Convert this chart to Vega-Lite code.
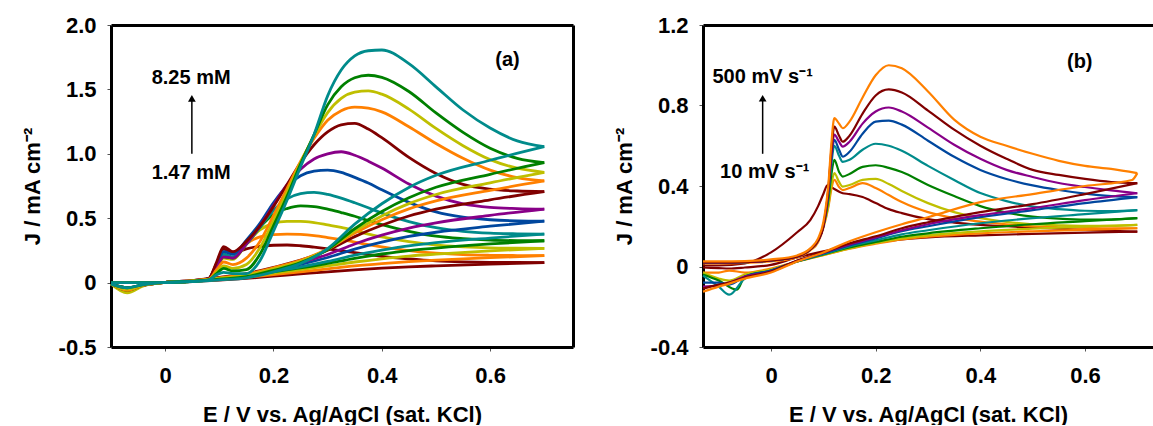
{
"$schema":"https://vega.github.io/schema/vega-lite/v6.json",
"background":"white",
"padding":{"left":21,"top":14,"right":0,"bottom":0},
"spacing":40,
"resolve":{"scale":{"color":"independent"}},
"config":{"view":{"stroke":null},"axis":{"grid":false,"labelFont":"Liberation Sans","labelFontSize":22,"labelFontWeight":"bold","labelColor":"black","titleFont":"Liberation Sans","titleFontSize":22,"titleFontWeight":"bold","titleColor":"black","domainColor":"black","domainWidth":3,"tickColor":"#555","tickSize":4,"tickWidth":1,"labelPadding":11,"titlePadding":14},"axisX":{"labelPadding":14,"titlePadding":18}},
"hconcat":[
{"width":462,"height":322,
"resolve":{"axis":{"x":"independent","y":"independent"}},
"layer":[
{"data":{"values":[
{"s":"a1f","x":-0.1,"y":0},{"s":"a1f","x":-0.05,"y":0},{"s":"a1f","x":0,"y":0},{"s":"a1f","x":0.05,"y":0.012},{"s":"a1f","x":0.08,"y":0.03},{"s":"a1f","x":0.095,"y":0.15},{"s":"a1f","x":0.108,"y":0.26},{"s":"a1f","x":0.125,"y":0.23},{"s":"a1f","x":0.15,"y":0.262},{"s":"a1f","x":0.175,"y":0.282},{"s":"a1f","x":0.2,"y":0.29},{"s":"a1f","x":0.225,"y":0.292},{"s":"a1f","x":0.25,"y":0.286},{"s":"a1f","x":0.275,"y":0.275},{"s":"a1f","x":0.3,"y":0.262},{"s":"a1f","x":0.325,"y":0.248},{"s":"a1f","x":0.35,"y":0.232},{"s":"a1f","x":0.375,"y":0.218},{"s":"a1f","x":0.4,"y":0.204},{"s":"a1f","x":0.45,"y":0.184},{"s":"a1f","x":0.5,"y":0.169},{"s":"a1f","x":0.55,"y":0.161},{"s":"a1f","x":0.6,"y":0.157},{"s":"a1f","x":0.65,"y":0.156},{"s":"a1f","x":0.7,"y":0.155},
{"s":"a1r","x":0.7,"y":0.155},{"s":"a1r","x":0.6,"y":0.144},{"s":"a1r","x":0.5,"y":0.13},{"s":"a1r","x":0.45,"y":0.122},{"s":"a1r","x":0.4,"y":0.112},{"s":"a1r","x":0.35,"y":0.099},{"s":"a1r","x":0.3,"y":0.084},{"s":"a1r","x":0.25,"y":0.067},{"s":"a1r","x":0.2,"y":0.05},{"s":"a1r","x":0.15,"y":0.033},{"s":"a1r","x":0.1,"y":0.019},{"s":"a1r","x":0.05,"y":0.008},{"s":"a1r","x":0,"y":0.002},{"s":"a1r","x":-0.04,"y":-0.02},{"s":"a1r","x":-0.07,"y":-0.06},{"s":"a1r","x":-0.1,"y":-0.01},
{"s":"a2f","x":-0.1,"y":0},{"s":"a2f","x":-0.05,"y":0},{"s":"a2f","x":0,"y":0},{"s":"a2f","x":0.05,"y":0.012},{"s":"a2f","x":0.08,"y":0.03},{"s":"a2f","x":0.095,"y":0.12},{"s":"a2f","x":0.108,"y":0.2},{"s":"a2f","x":0.125,"y":0.19},{"s":"a2f","x":0.15,"y":0.3},{"s":"a2f","x":0.175,"y":0.355},{"s":"a2f","x":0.2,"y":0.372},{"s":"a2f","x":0.225,"y":0.377},{"s":"a2f","x":0.25,"y":0.374},{"s":"a2f","x":0.275,"y":0.365},{"s":"a2f","x":0.3,"y":0.35},{"s":"a2f","x":0.325,"y":0.333},{"s":"a2f","x":0.35,"y":0.315},{"s":"a2f","x":0.375,"y":0.294},{"s":"a2f","x":0.4,"y":0.278},{"s":"a2f","x":0.45,"y":0.249},{"s":"a2f","x":0.5,"y":0.229},{"s":"a2f","x":0.55,"y":0.217},{"s":"a2f","x":0.6,"y":0.212},{"s":"a2f","x":0.65,"y":0.21},{"s":"a2f","x":0.7,"y":0.209},
{"s":"a2r","x":0.7,"y":0.209},{"s":"a2r","x":0.6,"y":0.194},{"s":"a2r","x":0.5,"y":0.175},{"s":"a2r","x":0.45,"y":0.163},{"s":"a2r","x":0.4,"y":0.148},{"s":"a2r","x":0.35,"y":0.13},{"s":"a2r","x":0.3,"y":0.107},{"s":"a2r","x":0.25,"y":0.084},{"s":"a2r","x":0.2,"y":0.062},{"s":"a2r","x":0.15,"y":0.041},{"s":"a2r","x":0.1,"y":0.023},{"s":"a2r","x":0.05,"y":0.01},{"s":"a2r","x":0,"y":0.002},{"s":"a2r","x":-0.04,"y":-0.02},{"s":"a2r","x":-0.07,"y":-0.07},{"s":"a2r","x":-0.1,"y":-0.01},
{"s":"a3f","x":-0.1,"y":0},{"s":"a3f","x":-0.05,"y":0},{"s":"a3f","x":0,"y":0},{"s":"a3f","x":0.05,"y":0.012},{"s":"a3f","x":0.08,"y":0.03},{"s":"a3f","x":0.095,"y":0.11},{"s":"a3f","x":0.108,"y":0.19},{"s":"a3f","x":0.125,"y":0.18},{"s":"a3f","x":0.15,"y":0.3},{"s":"a3f","x":0.175,"y":0.41},{"s":"a3f","x":0.2,"y":0.46},{"s":"a3f","x":0.225,"y":0.475},{"s":"a3f","x":0.25,"y":0.476},{"s":"a3f","x":0.275,"y":0.466},{"s":"a3f","x":0.3,"y":0.448},{"s":"a3f","x":0.325,"y":0.429},{"s":"a3f","x":0.35,"y":0.404},{"s":"a3f","x":0.375,"y":0.377},{"s":"a3f","x":0.4,"y":0.355},{"s":"a3f","x":0.45,"y":0.318},{"s":"a3f","x":0.5,"y":0.291},{"s":"a3f","x":0.55,"y":0.278},{"s":"a3f","x":0.6,"y":0.27},{"s":"a3f","x":0.65,"y":0.267},{"s":"a3f","x":0.7,"y":0.266},
{"s":"a3r","x":0.7,"y":0.266},{"s":"a3r","x":0.6,"y":0.246},{"s":"a3r","x":0.5,"y":0.221},{"s":"a3r","x":0.45,"y":0.206},{"s":"a3r","x":0.4,"y":0.185},{"s":"a3r","x":0.35,"y":0.16},{"s":"a3r","x":0.3,"y":0.13},{"s":"a3r","x":0.25,"y":0.1},{"s":"a3r","x":0.2,"y":0.073},{"s":"a3r","x":0.15,"y":0.047},{"s":"a3r","x":0.1,"y":0.027},{"s":"a3r","x":0.05,"y":0.011},{"s":"a3r","x":0,"y":0.002},{"s":"a3r","x":-0.04,"y":-0.025},{"s":"a3r","x":-0.07,"y":-0.08},{"s":"a3r","x":-0.1,"y":-0.01},
{"s":"a4f","x":-0.1,"y":0},{"s":"a4f","x":-0.05,"y":0},{"s":"a4f","x":0,"y":0},{"s":"a4f","x":0.05,"y":0.012},{"s":"a4f","x":0.08,"y":0.03},{"s":"a4f","x":0.095,"y":0.12},{"s":"a4f","x":0.108,"y":0.2},{"s":"a4f","x":0.125,"y":0.19},{"s":"a4f","x":0.15,"y":0.3},{"s":"a4f","x":0.175,"y":0.43},{"s":"a4f","x":0.2,"y":0.53},{"s":"a4f","x":0.225,"y":0.575},{"s":"a4f","x":0.25,"y":0.595},{"s":"a4f","x":0.275,"y":0.59},{"s":"a4f","x":0.3,"y":0.571},{"s":"a4f","x":0.325,"y":0.544},{"s":"a4f","x":0.35,"y":0.515},{"s":"a4f","x":0.375,"y":0.481},{"s":"a4f","x":0.4,"y":0.45},{"s":"a4f","x":0.45,"y":0.398},{"s":"a4f","x":0.5,"y":0.36},{"s":"a4f","x":0.55,"y":0.341},{"s":"a4f","x":0.6,"y":0.33},{"s":"a4f","x":0.65,"y":0.326},{"s":"a4f","x":0.7,"y":0.325},
{"s":"a4r","x":0.7,"y":0.325},{"s":"a4r","x":0.6,"y":0.3},{"s":"a4r","x":0.5,"y":0.268},{"s":"a4r","x":0.45,"y":0.249},{"s":"a4r","x":0.4,"y":0.222},{"s":"a4r","x":0.35,"y":0.189},{"s":"a4r","x":0.3,"y":0.15},{"s":"a4r","x":0.25,"y":0.114},{"s":"a4r","x":0.2,"y":0.083},{"s":"a4r","x":0.15,"y":0.053},{"s":"a4r","x":0.1,"y":0.03},{"s":"a4r","x":0.05,"y":0.013},{"s":"a4r","x":0,"y":0.002},{"s":"a4r","x":-0.04,"y":-0.02},{"s":"a4r","x":-0.07,"y":-0.06},{"s":"a4r","x":-0.1,"y":-0.01},
{"s":"a5f","x":-0.1,"y":0},{"s":"a5f","x":-0.05,"y":0},{"s":"a5f","x":0,"y":0},{"s":"a5f","x":0.05,"y":0.012},{"s":"a5f","x":0.08,"y":0.03},{"s":"a5f","x":0.095,"y":0.13},{"s":"a5f","x":0.108,"y":0.22},{"s":"a5f","x":0.125,"y":0.2},{"s":"a5f","x":0.15,"y":0.3},{"s":"a5f","x":0.175,"y":0.43},{"s":"a5f","x":0.2,"y":0.56},{"s":"a5f","x":0.225,"y":0.65},{"s":"a5f","x":0.25,"y":0.69},{"s":"a5f","x":0.275,"y":0.701},{"s":"a5f","x":0.3,"y":0.685},{"s":"a5f","x":0.325,"y":0.656},{"s":"a5f","x":0.35,"y":0.62},{"s":"a5f","x":0.375,"y":0.581},{"s":"a5f","x":0.4,"y":0.539},{"s":"a5f","x":0.45,"y":0.474},{"s":"a5f","x":0.5,"y":0.426},{"s":"a5f","x":0.55,"y":0.398},{"s":"a5f","x":0.6,"y":0.384},{"s":"a5f","x":0.65,"y":0.379},{"s":"a5f","x":0.7,"y":0.377},
{"s":"a5r","x":0.7,"y":0.377},{"s":"a5r","x":0.6,"y":0.346},{"s":"a5r","x":0.5,"y":0.31},{"s":"a5r","x":0.45,"y":0.285},{"s":"a5r","x":0.4,"y":0.252},{"s":"a5r","x":0.35,"y":0.213},{"s":"a5r","x":0.3,"y":0.164},{"s":"a5r","x":0.25,"y":0.122},{"s":"a5r","x":0.2,"y":0.088},{"s":"a5r","x":0.15,"y":0.055},{"s":"a5r","x":0.1,"y":0.032},{"s":"a5r","x":0.05,"y":0.013},{"s":"a5r","x":0,"y":0.002},{"s":"a5r","x":-0.04,"y":-0.02},{"s":"a5r","x":-0.07,"y":-0.05},{"s":"a5r","x":-0.1,"y":-0.01},
{"s":"a6f","x":-0.1,"y":0},{"s":"a6f","x":-0.05,"y":0},{"s":"a6f","x":0,"y":0},{"s":"a6f","x":0.05,"y":0.012},{"s":"a6f","x":0.08,"y":0.03},{"s":"a6f","x":0.095,"y":0.14},{"s":"a6f","x":0.108,"y":0.24},{"s":"a6f","x":0.125,"y":0.22},{"s":"a6f","x":0.15,"y":0.33},{"s":"a6f","x":0.175,"y":0.46},{"s":"a6f","x":0.2,"y":0.62},{"s":"a6f","x":0.225,"y":0.75},{"s":"a6f","x":0.25,"y":0.83},{"s":"a6f","x":0.275,"y":0.865},{"s":"a6f","x":0.3,"y":0.874},{"s":"a6f","x":0.325,"y":0.856},{"s":"a6f","x":0.35,"y":0.817},{"s":"a6f","x":0.375,"y":0.773},{"s":"a6f","x":0.4,"y":0.72},{"s":"a6f","x":0.45,"y":0.623},{"s":"a6f","x":0.5,"y":0.549},{"s":"a6f","x":0.55,"y":0.508},{"s":"a6f","x":0.6,"y":0.488},{"s":"a6f","x":0.65,"y":0.48},{"s":"a6f","x":0.7,"y":0.478},
{"s":"a6r","x":0.7,"y":0.478},{"s":"a6r","x":0.6,"y":0.438},{"s":"a6r","x":0.5,"y":0.391},{"s":"a6r","x":0.45,"y":0.358},{"s":"a6r","x":0.4,"y":0.314},{"s":"a6r","x":0.35,"y":0.26},{"s":"a6r","x":0.3,"y":0.195},{"s":"a6r","x":0.25,"y":0.142},{"s":"a6r","x":0.2,"y":0.101},{"s":"a6r","x":0.15,"y":0.062},{"s":"a6r","x":0.1,"y":0.036},{"s":"a6r","x":0.05,"y":0.015},{"s":"a6r","x":0,"y":0.002},{"s":"a6r","x":-0.04,"y":-0.015},{"s":"a6r","x":-0.07,"y":-0.04},{"s":"a6r","x":-0.1,"y":-0.01},
{"s":"a7f","x":-0.1,"y":0},{"s":"a7f","x":-0.05,"y":0},{"s":"a7f","x":0,"y":0},{"s":"a7f","x":0.05,"y":0.012},{"s":"a7f","x":0.08,"y":0.03},{"s":"a7f","x":0.095,"y":0.12},{"s":"a7f","x":0.108,"y":0.2},{"s":"a7f","x":0.125,"y":0.19},{"s":"a7f","x":0.15,"y":0.3},{"s":"a7f","x":0.175,"y":0.44},{"s":"a7f","x":0.2,"y":0.6},{"s":"a7f","x":0.225,"y":0.76},{"s":"a7f","x":0.25,"y":0.88},{"s":"a7f","x":0.275,"y":0.96},{"s":"a7f","x":0.3,"y":1.0},{"s":"a7f","x":0.325,"y":1.016},{"s":"a7f","x":0.35,"y":0.989},{"s":"a7f","x":0.375,"y":0.943},{"s":"a7f","x":0.4,"y":0.889},{"s":"a7f","x":0.45,"y":0.765},{"s":"a7f","x":0.5,"y":0.671},{"s":"a7f","x":0.55,"y":0.611},{"s":"a7f","x":0.6,"y":0.584},{"s":"a7f","x":0.65,"y":0.575},{"s":"a7f","x":0.7,"y":0.571},
{"s":"a7r","x":0.7,"y":0.571},{"s":"a7r","x":0.6,"y":0.522},{"s":"a7r","x":0.5,"y":0.464},{"s":"a7r","x":0.45,"y":0.423},{"s":"a7r","x":0.4,"y":0.368},{"s":"a7r","x":0.35,"y":0.3},{"s":"a7r","x":0.3,"y":0.218},{"s":"a7r","x":0.25,"y":0.155},{"s":"a7r","x":0.2,"y":0.108},{"s":"a7r","x":0.15,"y":0.066},{"s":"a7r","x":0.1,"y":0.038},{"s":"a7r","x":0.05,"y":0.015},{"s":"a7r","x":0,"y":0.002},{"s":"a7r","x":-0.04,"y":-0.02},{"s":"a7r","x":-0.07,"y":-0.05},{"s":"a7r","x":-0.1,"y":-0.01},
{"s":"a8f","x":-0.1,"y":0},{"s":"a8f","x":-0.05,"y":0},{"s":"a8f","x":0,"y":0},{"s":"a8f","x":0.05,"y":0.012},{"s":"a8f","x":0.08,"y":0.03},{"s":"a8f","x":0.095,"y":0.16},{"s":"a8f","x":0.108,"y":0.28},{"s":"a8f","x":0.125,"y":0.24},{"s":"a8f","x":0.15,"y":0.32},{"s":"a8f","x":0.175,"y":0.44},{"s":"a8f","x":0.2,"y":0.59},{"s":"a8f","x":0.225,"y":0.76},{"s":"a8f","x":0.25,"y":0.93},{"s":"a8f","x":0.275,"y":1.07},{"s":"a8f","x":0.3,"y":1.17},{"s":"a8f","x":0.325,"y":1.225},{"s":"a8f","x":0.35,"y":1.236},{"s":"a8f","x":0.375,"y":1.192},{"s":"a8f","x":0.4,"y":1.125},{"s":"a8f","x":0.45,"y":0.972},{"s":"a8f","x":0.5,"y":0.847},{"s":"a8f","x":0.55,"y":0.762},{"s":"a8f","x":0.6,"y":0.725},{"s":"a8f","x":0.65,"y":0.711},{"s":"a8f","x":0.7,"y":0.706},
{"s":"a8r","x":0.7,"y":0.706},{"s":"a8r","x":0.6,"y":0.643},{"s":"a8r","x":0.5,"y":0.57},{"s":"a8r","x":0.45,"y":0.517},{"s":"a8r","x":0.4,"y":0.445},{"s":"a8r","x":0.35,"y":0.357},{"s":"a8r","x":0.3,"y":0.251},{"s":"a8r","x":0.25,"y":0.174},{"s":"a8r","x":0.2,"y":0.118},{"s":"a8r","x":0.15,"y":0.07},{"s":"a8r","x":0.1,"y":0.04},{"s":"a8r","x":0.05,"y":0.016},{"s":"a8r","x":0,"y":0.002},{"s":"a8r","x":-0.04,"y":-0.02},{"s":"a8r","x":-0.07,"y":-0.04},{"s":"a8r","x":-0.1,"y":-0.01},
{"s":"a9f","x":-0.1,"y":0},{"s":"a9f","x":-0.05,"y":0},{"s":"a9f","x":0,"y":0},{"s":"a9f","x":0.05,"y":0.01},{"s":"a9f","x":0.08,"y":0.025},{"s":"a9f","x":0.095,"y":0.1},{"s":"a9f","x":0.108,"y":0.16},{"s":"a9f","x":0.125,"y":0.14},{"s":"a9f","x":0.15,"y":0.19},{"s":"a9f","x":0.175,"y":0.32},{"s":"a9f","x":0.2,"y":0.52},{"s":"a9f","x":0.225,"y":0.73},{"s":"a9f","x":0.25,"y":0.94},{"s":"a9f","x":0.275,"y":1.12},{"s":"a9f","x":0.3,"y":1.26},{"s":"a9f","x":0.325,"y":1.335},{"s":"a9f","x":0.35,"y":1.362},{"s":"a9f","x":0.375,"y":1.354},{"s":"a9f","x":0.4,"y":1.326},{"s":"a9f","x":0.45,"y":1.21},{"s":"a9f","x":0.5,"y":1.08},{"s":"a9f","x":0.55,"y":0.965},{"s":"a9f","x":0.6,"y":0.873},{"s":"a9f","x":0.65,"y":0.815},{"s":"a9f","x":0.7,"y":0.789},
{"s":"a9r","x":0.7,"y":0.789},{"s":"a9r","x":0.6,"y":0.716},{"s":"a9r","x":0.5,"y":0.634},{"s":"a9r","x":0.45,"y":0.572},{"s":"a9r","x":0.4,"y":0.488},{"s":"a9r","x":0.35,"y":0.384},{"s":"a9r","x":0.3,"y":0.26},{"s":"a9r","x":0.25,"y":0.173},{"s":"a9r","x":0.2,"y":0.115},{"s":"a9r","x":0.15,"y":0.065},{"s":"a9r","x":0.1,"y":0.037},{"s":"a9r","x":0.05,"y":0.015},{"s":"a9r","x":0,"y":0.002},{"s":"a9r","x":-0.04,"y":-0.02},{"s":"a9r","x":-0.07,"y":-0.06},{"s":"a9r","x":-0.1,"y":-0.01},
{"s":"a10f","x":-0.1,"y":0},{"s":"a10f","x":-0.05,"y":0},{"s":"a10f","x":0,"y":0},{"s":"a10f","x":0.05,"y":0.01},{"s":"a10f","x":0.08,"y":0.02},{"s":"a10f","x":0.095,"y":0.08},{"s":"a10f","x":0.108,"y":0.13},{"s":"a10f","x":0.125,"y":0.11},{"s":"a10f","x":0.15,"y":0.14},{"s":"a10f","x":0.175,"y":0.27},{"s":"a10f","x":0.2,"y":0.48},{"s":"a10f","x":0.225,"y":0.7},{"s":"a10f","x":0.25,"y":0.93},{"s":"a10f","x":0.275,"y":1.14},{"s":"a10f","x":0.3,"y":1.32},{"s":"a10f","x":0.325,"y":1.43},{"s":"a10f","x":0.35,"y":1.478},{"s":"a10f","x":0.375,"y":1.488},{"s":"a10f","x":0.4,"y":1.463},{"s":"a10f","x":0.45,"y":1.347},{"s":"a10f","x":0.5,"y":1.197},{"s":"a10f","x":0.55,"y":1.063},{"s":"a10f","x":0.6,"y":0.955},{"s":"a10f","x":0.65,"y":0.888},{"s":"a10f","x":0.7,"y":0.856},
{"s":"a10r","x":0.7,"y":0.856},{"s":"a10r","x":0.6,"y":0.775},{"s":"a10r","x":0.5,"y":0.684},{"s":"a10r","x":0.45,"y":0.613},{"s":"a10r","x":0.4,"y":0.518},{"s":"a10r","x":0.35,"y":0.401},{"s":"a10r","x":0.3,"y":0.259},{"s":"a10r","x":0.25,"y":0.165},{"s":"a10r","x":0.2,"y":0.106},{"s":"a10r","x":0.15,"y":0.057},{"s":"a10r","x":0.1,"y":0.033},{"s":"a10r","x":0.05,"y":0.014},{"s":"a10r","x":0,"y":0.002},{"s":"a10r","x":-0.04,"y":-0.02},{"s":"a10r","x":-0.07,"y":-0.05},{"s":"a10r","x":-0.1,"y":-0.01},
{"s":"a11f","x":-0.1,"y":0},{"s":"a11f","x":-0.05,"y":0},{"s":"a11f","x":0,"y":0},{"s":"a11f","x":0.05,"y":0.01},{"s":"a11f","x":0.08,"y":0.02},{"s":"a11f","x":0.095,"y":0.07},{"s":"a11f","x":0.108,"y":0.11},{"s":"a11f","x":0.125,"y":0.09},{"s":"a11f","x":0.15,"y":0.1},{"s":"a11f","x":0.175,"y":0.22},{"s":"a11f","x":0.2,"y":0.44},{"s":"a11f","x":0.225,"y":0.67},{"s":"a11f","x":0.25,"y":0.92},{"s":"a11f","x":0.275,"y":1.15},{"s":"a11f","x":0.3,"y":1.38},{"s":"a11f","x":0.325,"y":1.52},{"s":"a11f","x":0.35,"y":1.59},{"s":"a11f","x":0.375,"y":1.61},{"s":"a11f","x":0.4,"y":1.594},{"s":"a11f","x":0.45,"y":1.484},{"s":"a11f","x":0.5,"y":1.317},{"s":"a11f","x":0.55,"y":1.166},{"s":"a11f","x":0.6,"y":1.043},{"s":"a11f","x":0.65,"y":0.965},{"s":"a11f","x":0.7,"y":0.931},
{"s":"a11r","x":0.7,"y":0.931},{"s":"a11r","x":0.6,"y":0.841},{"s":"a11r","x":0.5,"y":0.74},{"s":"a11r","x":0.45,"y":0.659},{"s":"a11r","x":0.4,"y":0.552},{"s":"a11r","x":0.35,"y":0.418},{"s":"a11r","x":0.3,"y":0.257},{"s":"a11r","x":0.25,"y":0.155},{"s":"a11r","x":0.2,"y":0.095},{"s":"a11r","x":0.15,"y":0.047},{"s":"a11r","x":0.1,"y":0.027},{"s":"a11r","x":0.05,"y":0.011},{"s":"a11r","x":0,"y":0.002},{"s":"a11r","x":-0.04,"y":-0.015},{"s":"a11r","x":-0.07,"y":-0.04},{"s":"a11r","x":-0.1,"y":-0.01},
{"s":"a12f","x":-0.1,"y":0},{"s":"a12f","x":-0.05,"y":0},{"s":"a12f","x":0,"y":0},{"s":"a12f","x":0.05,"y":0.01},{"s":"a12f","x":0.08,"y":0.02},{"s":"a12f","x":0.095,"y":0.06},{"s":"a12f","x":0.108,"y":0.08},{"s":"a12f","x":0.125,"y":0.07},{"s":"a12f","x":0.15,"y":0.07},{"s":"a12f","x":0.175,"y":0.17},{"s":"a12f","x":0.2,"y":0.4},{"s":"a12f","x":0.225,"y":0.64},{"s":"a12f","x":0.25,"y":0.9},{"s":"a12f","x":0.275,"y":1.15},{"s":"a12f","x":0.3,"y":1.45},{"s":"a12f","x":0.325,"y":1.65},{"s":"a12f","x":0.35,"y":1.76},{"s":"a12f","x":0.375,"y":1.8},{"s":"a12f","x":0.4,"y":1.806},{"s":"a12f","x":0.45,"y":1.7},{"s":"a12f","x":0.5,"y":1.52},{"s":"a12f","x":0.55,"y":1.34},{"s":"a12f","x":0.6,"y":1.2},{"s":"a12f","x":0.65,"y":1.1},{"s":"a12f","x":0.7,"y":1.055},
{"s":"a12r","x":0.7,"y":1.055},{"s":"a12r","x":0.6,"y":0.95},{"s":"a12r","x":0.5,"y":0.833},{"s":"a12r","x":0.45,"y":0.739},{"s":"a12r","x":0.4,"y":0.612},{"s":"a12r","x":0.35,"y":0.454},{"s":"a12r","x":0.3,"y":0.264},{"s":"a12r","x":0.25,"y":0.148},{"s":"a12r","x":0.2,"y":0.084},{"s":"a12r","x":0.15,"y":0.037},{"s":"a12r","x":0.1,"y":0.021},{"s":"a12r","x":0.05,"y":0.008},{"s":"a12r","x":0,"y":0.002},{"s":"a12r","x":-0.04,"y":-0.015},{"s":"a12r","x":-0.07,"y":-0.04},{"s":"a12r","x":-0.1,"y":-0.01}
]},
"mark":{"type":"line","strokeWidth":2.8,"strokeJoin":"round","interpolate":"monotone"},
"encoding":{
"x":{"field":"x","type":"quantitative","scale":{"domain":[-0.1,0.753],"nice":false,"zero":false},"axis":{"values":[0,0.2,0.4,0.6],"labelExpr":"datum.value == 0 ? '0' : (datum.value < 0 ? '-' : '') + format(abs(datum.value), '.1f')","title":"E / V vs. Ag/AgCl (sat. KCl)"}},
"y":{"field":"y","type":"quantitative","scale":{"domain":[-0.5,2.0],"nice":false,"zero":false},"axis":{"values":[-0.5,0,0.5,1,1.5,2],"labelExpr":"datum.value == 0 ? '0' : (datum.value < 0 ? '-' : '') + format(abs(datum.value), '.1f')","title":"J / mA cm\u207b\u00b2"}},
"color":{"field":"s","type":"nominal","legend":null,"scale":{"domain":["a1f","a1r","a2f","a2r","a3f","a3r","a4f","a4r","a5f","a5r","a6f","a6r","a7f","a7r","a8f","a8r","a9f","a9r","a10f","a10r","a11f","a11r","a12f","a12r"],"range":["#800000","#800000","#FF8000","#FF8000","#BFBF00","#BFBF00","#008000","#008000","#008B8B","#008B8B","#00479E","#00479E","#880088","#880088","#800000","#800000","#FF8000","#FF8000","#BFBF00","#BFBF00","#008000","#008000","#008B8B","#008B8B"]}}
}},
{"data":{"values":[{"x":0.048,"y":1.588,"t":"8.25 mM"},{"x":0.048,"y":0.849,"t":"1.47 mM"},{"x":0.632,"y":1.728,"t":"(a)"}]},
"mark":{"type":"text","font":"Liberation Sans","fontSize":20,"fontWeight":"bold","color":"black","align":"center","baseline":"middle"},
"encoding":{
"x":{"field":"x","type":"quantitative","scale":{"domain":[-0.1,0.753],"nice":false,"zero":false},"axis":{"orient":"top","labels":false,"ticks":false,"title":null}},
"y":{"field":"y","type":"quantitative","scale":{"domain":[-0.5,2.0],"nice":false,"zero":false},"axis":{"orient":"right","labels":false,"ticks":false,"title":null}},
"text":{"field":"t"}}},
{"data":{"values":[{"x":0.0493,"y":1.0,"y2":1.43}]},
"mark":{"type":"rule","color":"black","strokeWidth":1.5},
"encoding":{"x":{"field":"x","type":"quantitative","axis":null},"y":{"field":"y","type":"quantitative","axis":null},"y2":{"field":"y2"}}},
{"data":{"values":[{"x":0.0493,"y":1.43}]},
"mark":{"type":"point","shape":"triangle-up","size":60,"filled":true,"color":"black","opacity":1},
"encoding":{"x":{"field":"x","type":"quantitative","axis":null},"y":{"field":"y","type":"quantitative","axis":null}}}
]},
{"width":450,"height":322,
"resolve":{"axis":{"x":"independent","y":"independent"}},
"layer":[
{"data":{"values":[
{"s":"b1f","x":-0.13,"y":0.005},{"s":"b1f","x":-0.1,"y":0.005},{"s":"b1f","x":-0.05,"y":0.015},{"s":"b1f","x":0,"y":0.07},{"s":"b1f","x":0.05,"y":0.17},{"s":"b1f","x":0.075,"y":0.23},{"s":"b1f","x":0.09,"y":0.3},{"s":"b1f","x":0.1,"y":0.36},{"s":"b1f","x":0.108,"y":0.405},{"s":"b1f","x":0.121,"y":0.385},{"s":"b1f","x":0.137,"y":0.364},{"s":"b1f","x":0.15,"y":0.36},{"s":"b1f","x":0.175,"y":0.345},{"s":"b1f","x":0.2,"y":0.315},{"s":"b1f","x":0.225,"y":0.285},{"s":"b1f","x":0.25,"y":0.265},{"s":"b1f","x":0.3,"y":0.235},{"s":"b1f","x":0.35,"y":0.218},{"s":"b1f","x":0.4,"y":0.207},{"s":"b1f","x":0.45,"y":0.2},{"s":"b1f","x":0.5,"y":0.193},{"s":"b1f","x":0.55,"y":0.188},{"s":"b1f","x":0.6,"y":0.182},{"s":"b1f","x":0.65,"y":0.177},{"s":"b1f","x":0.7,"y":0.173},
{"s":"b1r","x":0.7,"y":0.173},{"s":"b1r","x":0.6,"y":0.168},{"s":"b1r","x":0.5,"y":0.162},{"s":"b1r","x":0.4,"y":0.155},{"s":"b1r","x":0.3,"y":0.145},{"s":"b1r","x":0.25,"y":0.135},{"s":"b1r","x":0.2,"y":0.12},{"s":"b1r","x":0.15,"y":0.1},{"s":"b1r","x":0.1,"y":0.075},{"s":"b1r","x":0.05,"y":0.045},{"s":"b1r","x":0,"y":0.008},{"s":"b1r","x":-0.05,"y":-0.005},{"s":"b1r","x":-0.08,"y":-0.01},{"s":"b1r","x":-0.1,"y":-0.008},{"s":"b1r","x":-0.13,"y":-0.005},
{"s":"b2f","x":-0.13,"y":0.015},{"s":"b2f","x":-0.1,"y":0.015},{"s":"b2f","x":-0.05,"y":0.018},{"s":"b2f","x":0,"y":0.025},{"s":"b2f","x":0.05,"y":0.045},{"s":"b2f","x":0.075,"y":0.08},{"s":"b2f","x":0.09,"y":0.12},{"s":"b2f","x":0.1,"y":0.19},{"s":"b2f","x":0.11,"y":0.3},{"s":"b2f","x":0.115,"y":0.38},{"s":"b2f","x":0.121,"y":0.43},{"s":"b2f","x":0.13,"y":0.395},{"s":"b2f","x":0.137,"y":0.38},{"s":"b2f","x":0.15,"y":0.39},{"s":"b2f","x":0.175,"y":0.414},{"s":"b2f","x":0.2,"y":0.39},{"s":"b2f","x":0.225,"y":0.355},{"s":"b2f","x":0.25,"y":0.32},{"s":"b2f","x":0.3,"y":0.27},{"s":"b2f","x":0.35,"y":0.24},{"s":"b2f","x":0.4,"y":0.223},{"s":"b2f","x":0.45,"y":0.21},{"s":"b2f","x":0.5,"y":0.2},{"s":"b2f","x":0.55,"y":0.195},{"s":"b2f","x":0.6,"y":0.192},{"s":"b2f","x":0.65,"y":0.19},{"s":"b2f","x":0.7,"y":0.19},
{"s":"b2r","x":0.7,"y":0.19},{"s":"b2r","x":0.6,"y":0.182},{"s":"b2r","x":0.5,"y":0.175},{"s":"b2r","x":0.4,"y":0.165},{"s":"b2r","x":0.3,"y":0.148},{"s":"b2r","x":0.25,"y":0.135},{"s":"b2r","x":0.2,"y":0.113},{"s":"b2r","x":0.15,"y":0.088},{"s":"b2r","x":0.1,"y":0.056},{"s":"b2r","x":0.05,"y":0.025},{"s":"b2r","x":0,"y":-0.01},{"s":"b2r","x":-0.05,"y":-0.03},{"s":"b2r","x":-0.08,"y":-0.02},{"s":"b2r","x":-0.1,"y":-0.03},{"s":"b2r","x":-0.13,"y":-0.03},
{"s":"b3f","x":-0.13,"y":0.02},{"s":"b3f","x":-0.1,"y":0.02},{"s":"b3f","x":-0.05,"y":0.022},{"s":"b3f","x":0,"y":0.03},{"s":"b3f","x":0.05,"y":0.05},{"s":"b3f","x":0.075,"y":0.085},{"s":"b3f","x":0.09,"y":0.13},{"s":"b3f","x":0.1,"y":0.2},{"s":"b3f","x":0.11,"y":0.31},{"s":"b3f","x":0.115,"y":0.4},{"s":"b3f","x":0.121,"y":0.464},{"s":"b3f","x":0.13,"y":0.42},{"s":"b3f","x":0.137,"y":0.397},{"s":"b3f","x":0.15,"y":0.405},{"s":"b3f","x":0.175,"y":0.43},{"s":"b3f","x":0.2,"y":0.435},{"s":"b3f","x":0.225,"y":0.41},{"s":"b3f","x":0.25,"y":0.375},{"s":"b3f","x":0.3,"y":0.315},{"s":"b3f","x":0.35,"y":0.27},{"s":"b3f","x":0.4,"y":0.24},{"s":"b3f","x":0.45,"y":0.222},{"s":"b3f","x":0.5,"y":0.21},{"s":"b3f","x":0.55,"y":0.205},{"s":"b3f","x":0.6,"y":0.202},{"s":"b3f","x":0.65,"y":0.202},{"s":"b3f","x":0.7,"y":0.207},
{"s":"b3r","x":0.7,"y":0.207},{"s":"b3r","x":0.6,"y":0.198},{"s":"b3r","x":0.5,"y":0.188},{"s":"b3r","x":0.4,"y":0.175},{"s":"b3r","x":0.3,"y":0.155},{"s":"b3r","x":0.25,"y":0.14},{"s":"b3r","x":0.2,"y":0.117},{"s":"b3r","x":0.15,"y":0.09},{"s":"b3r","x":0.1,"y":0.058},{"s":"b3r","x":0.05,"y":0.025},{"s":"b3r","x":0,"y":-0.015},{"s":"b3r","x":-0.05,"y":-0.04},{"s":"b3r","x":-0.08,"y":-0.07},{"s":"b3r","x":-0.1,"y":-0.06},{"s":"b3r","x":-0.13,"y":-0.03},
{"s":"b4f","x":-0.13,"y":0.02},{"s":"b4f","x":-0.1,"y":0.02},{"s":"b4f","x":-0.05,"y":0.022},{"s":"b4f","x":0,"y":0.03},{"s":"b4f","x":0.05,"y":0.05},{"s":"b4f","x":0.075,"y":0.085},{"s":"b4f","x":0.09,"y":0.13},{"s":"b4f","x":0.1,"y":0.2},{"s":"b4f","x":0.11,"y":0.34},{"s":"b4f","x":0.115,"y":0.45},{"s":"b4f","x":0.121,"y":0.53},{"s":"b4f","x":0.13,"y":0.47},{"s":"b4f","x":0.137,"y":0.447},{"s":"b4f","x":0.15,"y":0.46},{"s":"b4f","x":0.175,"y":0.495},{"s":"b4f","x":0.2,"y":0.503},{"s":"b4f","x":0.225,"y":0.49},{"s":"b4f","x":0.25,"y":0.47},{"s":"b4f","x":0.3,"y":0.405},{"s":"b4f","x":0.35,"y":0.35},{"s":"b4f","x":0.4,"y":0.3},{"s":"b4f","x":0.45,"y":0.268},{"s":"b4f","x":0.5,"y":0.248},{"s":"b4f","x":0.55,"y":0.238},{"s":"b4f","x":0.6,"y":0.233},{"s":"b4f","x":0.65,"y":0.233},{"s":"b4f","x":0.7,"y":0.24},
{"s":"b4r","x":0.7,"y":0.24},{"s":"b4r","x":0.6,"y":0.225},{"s":"b4r","x":0.5,"y":0.21},{"s":"b4r","x":0.4,"y":0.19},{"s":"b4r","x":0.3,"y":0.165},{"s":"b4r","x":0.25,"y":0.148},{"s":"b4r","x":0.2,"y":0.122},{"s":"b4r","x":0.15,"y":0.095},{"s":"b4r","x":0.1,"y":0.06},{"s":"b4r","x":0.05,"y":0.025},{"s":"b4r","x":0,"y":-0.02},{"s":"b4r","x":-0.05,"y":-0.05},{"s":"b4r","x":-0.065,"y":-0.115},{"s":"b4r","x":-0.1,"y":-0.07},{"s":"b4r","x":-0.13,"y":-0.04},
{"s":"b5f","x":-0.13,"y":0.02},{"s":"b5f","x":-0.1,"y":0.02},{"s":"b5f","x":-0.05,"y":0.022},{"s":"b5f","x":0,"y":0.03},{"s":"b5f","x":0.05,"y":0.05},{"s":"b5f","x":0.075,"y":0.085},{"s":"b5f","x":0.09,"y":0.13},{"s":"b5f","x":0.1,"y":0.2},{"s":"b5f","x":0.11,"y":0.37},{"s":"b5f","x":0.115,"y":0.5},{"s":"b5f","x":0.121,"y":0.6},{"s":"b5f","x":0.13,"y":0.55},{"s":"b5f","x":0.137,"y":0.52},{"s":"b5f","x":0.15,"y":0.53},{"s":"b5f","x":0.175,"y":0.58},{"s":"b5f","x":0.2,"y":0.61},{"s":"b5f","x":0.225,"y":0.6},{"s":"b5f","x":0.25,"y":0.575},{"s":"b5f","x":0.3,"y":0.5},{"s":"b5f","x":0.35,"y":0.43},{"s":"b5f","x":0.4,"y":0.365},{"s":"b5f","x":0.45,"y":0.325},{"s":"b5f","x":0.5,"y":0.298},{"s":"b5f","x":0.55,"y":0.285},{"s":"b5f","x":0.6,"y":0.277},{"s":"b5f","x":0.65,"y":0.275},{"s":"b5f","x":0.7,"y":0.28},
{"s":"b5r","x":0.7,"y":0.28},{"s":"b5r","x":0.6,"y":0.26},{"s":"b5r","x":0.5,"y":0.24},{"s":"b5r","x":0.4,"y":0.215},{"s":"b5r","x":0.3,"y":0.18},{"s":"b5r","x":0.25,"y":0.16},{"s":"b5r","x":0.2,"y":0.13},{"s":"b5r","x":0.15,"y":0.1},{"s":"b5r","x":0.1,"y":0.062},{"s":"b5r","x":0.05,"y":0.025},{"s":"b5r","x":0,"y":-0.02},{"s":"b5r","x":-0.05,"y":-0.06},{"s":"b5r","x":-0.08,"y":-0.14},{"s":"b5r","x":-0.1,"y":-0.1},{"s":"b5r","x":-0.13,"y":-0.045},
{"s":"b6f","x":-0.13,"y":0.02},{"s":"b6f","x":-0.1,"y":0.02},{"s":"b6f","x":-0.05,"y":0.022},{"s":"b6f","x":0,"y":0.03},{"s":"b6f","x":0.05,"y":0.05},{"s":"b6f","x":0.075,"y":0.085},{"s":"b6f","x":0.09,"y":0.13},{"s":"b6f","x":0.1,"y":0.2},{"s":"b6f","x":0.11,"y":0.38},{"s":"b6f","x":0.115,"y":0.53},{"s":"b6f","x":0.121,"y":0.629},{"s":"b6f","x":0.13,"y":0.58},{"s":"b6f","x":0.137,"y":0.546},{"s":"b6f","x":0.15,"y":0.57},{"s":"b6f","x":0.175,"y":0.66},{"s":"b6f","x":0.2,"y":0.72},{"s":"b6f","x":0.225,"y":0.725},{"s":"b6f","x":0.25,"y":0.705},{"s":"b6f","x":0.3,"y":0.625},{"s":"b6f","x":0.35,"y":0.545},{"s":"b6f","x":0.4,"y":0.48},{"s":"b6f","x":0.45,"y":0.435},{"s":"b6f","x":0.5,"y":0.403},{"s":"b6f","x":0.55,"y":0.38},{"s":"b6f","x":0.6,"y":0.362},{"s":"b6f","x":0.65,"y":0.35},{"s":"b6f","x":0.7,"y":0.345},
{"s":"b6r","x":0.7,"y":0.345},{"s":"b6r","x":0.6,"y":0.315},{"s":"b6r","x":0.5,"y":0.28},{"s":"b6r","x":0.4,"y":0.245},{"s":"b6r","x":0.3,"y":0.2},{"s":"b6r","x":0.25,"y":0.175},{"s":"b6r","x":0.2,"y":0.14},{"s":"b6r","x":0.15,"y":0.105},{"s":"b6r","x":0.1,"y":0.065},{"s":"b6r","x":0.05,"y":0.027},{"s":"b6r","x":0,"y":-0.02},{"s":"b6r","x":-0.05,"y":-0.05},{"s":"b6r","x":-0.08,"y":-0.09},{"s":"b6r","x":-0.1,"y":-0.08},{"s":"b6r","x":-0.13,"y":-0.08},
{"s":"b7f","x":-0.13,"y":0.02},{"s":"b7f","x":-0.1,"y":0.02},{"s":"b7f","x":-0.05,"y":0.022},{"s":"b7f","x":0,"y":0.03},{"s":"b7f","x":0.05,"y":0.05},{"s":"b7f","x":0.075,"y":0.085},{"s":"b7f","x":0.09,"y":0.13},{"s":"b7f","x":0.1,"y":0.2},{"s":"b7f","x":0.11,"y":0.39},{"s":"b7f","x":0.115,"y":0.55},{"s":"b7f","x":0.121,"y":0.655},{"s":"b7f","x":0.13,"y":0.62},{"s":"b7f","x":0.137,"y":0.596},{"s":"b7f","x":0.15,"y":0.62},{"s":"b7f","x":0.175,"y":0.71},{"s":"b7f","x":0.2,"y":0.77},{"s":"b7f","x":0.225,"y":0.79},{"s":"b7f","x":0.25,"y":0.77},{"s":"b7f","x":0.3,"y":0.69},{"s":"b7f","x":0.35,"y":0.605},{"s":"b7f","x":0.4,"y":0.535},{"s":"b7f","x":0.45,"y":0.48},{"s":"b7f","x":0.5,"y":0.445},{"s":"b7f","x":0.55,"y":0.415},{"s":"b7f","x":0.6,"y":0.395},{"s":"b7f","x":0.65,"y":0.378},{"s":"b7f","x":0.7,"y":0.364},
{"s":"b7r","x":0.7,"y":0.364},{"s":"b7r","x":0.6,"y":0.33},{"s":"b7r","x":0.5,"y":0.29},{"s":"b7r","x":0.4,"y":0.255},{"s":"b7r","x":0.3,"y":0.21},{"s":"b7r","x":0.25,"y":0.18},{"s":"b7r","x":0.2,"y":0.145},{"s":"b7r","x":0.15,"y":0.11},{"s":"b7r","x":0.1,"y":0.068},{"s":"b7r","x":0.05,"y":0.028},{"s":"b7r","x":0,"y":-0.025},{"s":"b7r","x":-0.05,"y":-0.05},{"s":"b7r","x":-0.08,"y":-0.08},{"s":"b7r","x":-0.1,"y":-0.095},{"s":"b7r","x":-0.13,"y":-0.1},
{"s":"b8f","x":-0.13,"y":0.02},{"s":"b8f","x":-0.1,"y":0.02},{"s":"b8f","x":-0.05,"y":0.022},{"s":"b8f","x":0,"y":0.03},{"s":"b8f","x":0.05,"y":0.05},{"s":"b8f","x":0.075,"y":0.085},{"s":"b8f","x":0.09,"y":0.13},{"s":"b8f","x":0.1,"y":0.2},{"s":"b8f","x":0.11,"y":0.4},{"s":"b8f","x":0.115,"y":0.57},{"s":"b8f","x":0.121,"y":0.695},{"s":"b8f","x":0.13,"y":0.65},{"s":"b8f","x":0.137,"y":0.62},{"s":"b8f","x":0.15,"y":0.65},{"s":"b8f","x":0.175,"y":0.76},{"s":"b8f","x":0.2,"y":0.85},{"s":"b8f","x":0.225,"y":0.88},{"s":"b8f","x":0.25,"y":0.865},{"s":"b8f","x":0.3,"y":0.775},{"s":"b8f","x":0.35,"y":0.68},{"s":"b8f","x":0.4,"y":0.6},{"s":"b8f","x":0.45,"y":0.535},{"s":"b8f","x":0.5,"y":0.48},{"s":"b8f","x":0.55,"y":0.455},{"s":"b8f","x":0.6,"y":0.435},{"s":"b8f","x":0.65,"y":0.42},{"s":"b8f","x":0.7,"y":0.414},
{"s":"b8r","x":0.7,"y":0.414},{"s":"b8r","x":0.6,"y":0.36},{"s":"b8r","x":0.5,"y":0.31},{"s":"b8r","x":0.4,"y":0.27},{"s":"b8r","x":0.3,"y":0.22},{"s":"b8r","x":0.25,"y":0.19},{"s":"b8r","x":0.2,"y":0.15},{"s":"b8r","x":0.15,"y":0.115},{"s":"b8r","x":0.1,"y":0.07},{"s":"b8r","x":0.05,"y":0.03},{"s":"b8r","x":0,"y":-0.025},{"s":"b8r","x":-0.05,"y":-0.055},{"s":"b8r","x":-0.08,"y":-0.08},{"s":"b8r","x":-0.1,"y":-0.09},{"s":"b8r","x":-0.13,"y":-0.11},
{"s":"b9f","x":-0.13,"y":0.025},{"s":"b9f","x":-0.1,"y":0.025},{"s":"b9f","x":-0.05,"y":0.027},{"s":"b9f","x":0,"y":0.035},{"s":"b9f","x":0.05,"y":0.055},{"s":"b9f","x":0.075,"y":0.09},{"s":"b9f","x":0.09,"y":0.14},{"s":"b9f","x":0.1,"y":0.22},{"s":"b9f","x":0.11,"y":0.42},{"s":"b9f","x":0.115,"y":0.6},{"s":"b9f","x":0.121,"y":0.737},{"s":"b9f","x":0.13,"y":0.71},{"s":"b9f","x":0.137,"y":0.687},{"s":"b9f","x":0.15,"y":0.72},{"s":"b9f","x":0.175,"y":0.84},{"s":"b9f","x":0.2,"y":0.95},{"s":"b9f","x":0.225,"y":1.0},{"s":"b9f","x":0.25,"y":0.985},{"s":"b9f","x":0.3,"y":0.87},{"s":"b9f","x":0.35,"y":0.73},{"s":"b9f","x":0.4,"y":0.645},{"s":"b9f","x":0.45,"y":0.6},{"s":"b9f","x":0.5,"y":0.56},{"s":"b9f","x":0.55,"y":0.525},{"s":"b9f","x":0.6,"y":0.5},{"s":"b9f","x":0.65,"y":0.485},{"s":"b9f","x":0.7,"y":0.464},
{"s":"b9r","x":0.7,"y":0.464},{"s":"b9r","x":0.69,"y":0.43},{"s":"b9r","x":0.6,"y":0.4},{"s":"b9r","x":0.5,"y":0.36},{"s":"b9r","x":0.4,"y":0.32},{"s":"b9r","x":0.3,"y":0.245},{"s":"b9r","x":0.25,"y":0.21},{"s":"b9r","x":0.2,"y":0.17},{"s":"b9r","x":0.15,"y":0.125},{"s":"b9r","x":0.1,"y":0.07},{"s":"b9r","x":0.05,"y":0.025},{"s":"b9r","x":0,"y":-0.03},{"s":"b9r","x":-0.05,"y":-0.06},{"s":"b9r","x":-0.08,"y":-0.085},{"s":"b9r","x":-0.1,"y":-0.1},{"s":"b9r","x":-0.13,"y":-0.125}
]},
"mark":{"type":"line","strokeWidth":2.2,"strokeJoin":"round","interpolate":"monotone"},
"encoding":{
"x":{"field":"x","type":"quantitative","scale":{"domain":[-0.13,0.73],"nice":false,"zero":false},"axis":{"values":[0,0.2,0.4,0.6],"labelExpr":"datum.value == 0 ? '0' : (datum.value < 0 ? '-' : '') + format(abs(datum.value), '.1f')","title":"E / V vs. Ag/AgCl (sat. KCl)"}},
"y":{"field":"y","type":"quantitative","scale":{"domain":[-0.4,1.2],"nice":false,"zero":false},"axis":{"values":[-0.4,0,0.4,0.8,1.2],"labelExpr":"datum.value == 0 ? '0' : (datum.value < 0 ? '-' : '') + format(abs(datum.value), '.1f')","title":"J / mA cm\u207b\u00b2"}},
"color":{"field":"s","type":"nominal","legend":null,"scale":{"domain":["b1f","b1r","b2f","b2r","b3f","b3r","b4f","b4r","b5f","b5r","b6f","b6r","b7f","b7r","b8f","b8r","b9f","b9r"],"range":["#800000","#800000","#FF8000","#FF8000","#BFBF00","#BFBF00","#008000","#008000","#008B8B","#008B8B","#00479E","#00479E","#880088","#880088","#800000","#800000","#FF8000","#FF8000"]}}
}},
{"data":{"values":[{"x":-0.016,"y":0.94,"t":"500 mV s\u207b\u00b9"},{"x":-0.012,"y":0.468,"t":"10 mV s\u207b\u00b9"},{"x":0.59,"y":1.018,"t":"(b)"}]},
"mark":{"type":"text","font":"Liberation Sans","fontSize":20,"fontWeight":"bold","color":"black","align":"center","baseline":"middle"},
"encoding":{
"x":{"field":"x","type":"quantitative","scale":{"domain":[-0.13,0.73],"nice":false,"zero":false},"axis":{"orient":"top","labels":false,"ticks":false,"title":null}},
"y":{"field":"y","type":"quantitative","scale":{"domain":[-0.4,1.2],"nice":false,"zero":false},"axis":null},
"text":{"field":"t"}}},
{"data":{"values":[{"x":-0.016,"y":0.56,"y2":0.836}]},
"mark":{"type":"rule","color":"black","strokeWidth":1.5},
"encoding":{"x":{"field":"x","type":"quantitative","axis":null},"y":{"field":"y","type":"quantitative","axis":null},"y2":{"field":"y2"}}},
{"data":{"values":[{"x":-0.016,"y":0.836}]},
"mark":{"type":"point","shape":"triangle-up","size":60,"filled":true,"color":"black","opacity":1},
"encoding":{"x":{"field":"x","type":"quantitative","axis":null},"y":{"field":"y","type":"quantitative","axis":null}}}
]}
]
}
